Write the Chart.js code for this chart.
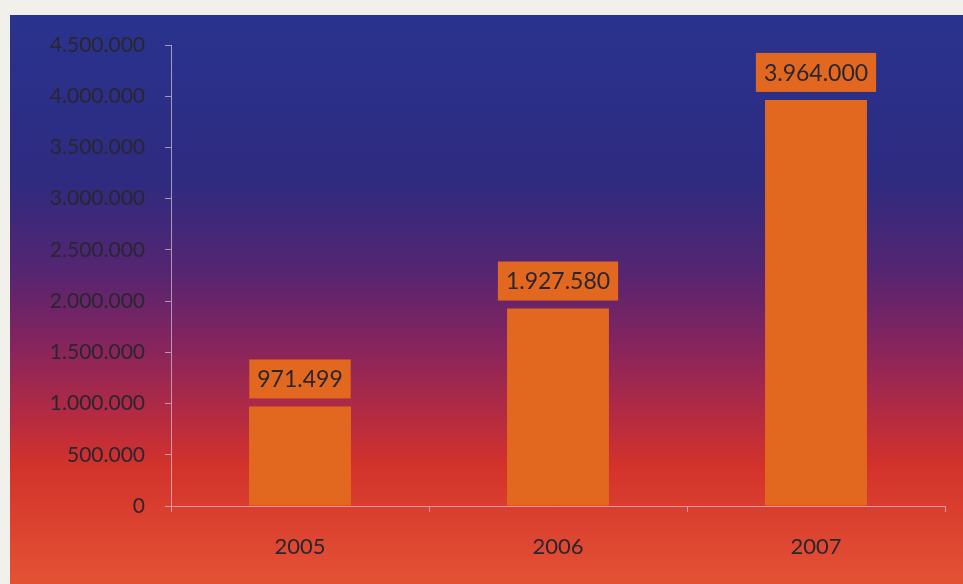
<!DOCTYPE html>
<html>
<head>
<meta charset="utf-8">
<script src="https://cdn.jsdelivr.net/npm/chart.js@4"></script>
<style>
  html, body { margin: 0; padding: 0; background: #f1efe8; }
  #wrap { width: 963px; height: 584px; position: relative; }
</style>
</head>
<body>
<div id="wrap"><canvas id="myCanvas"></canvas></div>
<script>
const years = ['2005', '2006', '2007'];
const values = [971499, 1927580, 3964000];
const yMax = 4500000;
const yStep = 500000;

const orange = '#e3681f';
const textDark = '#2a2630';
const axisColor = 'rgba(205, 185, 205, 0.75)';

// 1234567 -> 1.234.567
const fmt = (v) => String(Math.round(v)).replace(/\B(?=(\d{3})+(?!\d))/g, '.');

// paper edge plus the blue-to-red panel behind the plot
const backdrop = {
	id: 'backdrop',
	beforeDraw(chart) {
		const ctx = chart.ctx;
		const w = chart.width, h = chart.height;
		ctx.save();
		ctx.fillStyle = '#f2f0ea';
		ctx.fillRect(0, 0, w, h);
		const g = ctx.createLinearGradient(0, 15, 0, h);
		g.addColorStop(0.00, '#29338e');
		g.addColorStop(0.29, '#2e2b80');
		g.addColorStop(0.45, '#552571');
		g.addColorStop(0.57, '#82245f');
		g.addColorStop(0.70, '#b32a43');
		g.addColorStop(0.79, '#d2322b');
		g.addColorStop(1.00, '#e45234');
		ctx.fillStyle = g;
		ctx.fillRect(10, 15, w - 10, h - 15);
		ctx.restore();
	}
};

// boxed value above each bar
const valueBoxes = {
	id: 'valueBoxes',
	afterDatasetsDraw(chart) {
		const ctx = chart.ctx;
		const meta = chart.getDatasetMeta(0);
		ctx.save();
		ctx.font = '23px Lato';
		ctx.textAlign = 'center';
		ctx.textBaseline = 'middle';
		meta.data.forEach((bar, i) => {
			const txt = fmt(chart.data.datasets[0].data[i]);
			const tw = ctx.measureText(txt).width;
			const bw = tw + 16, bh = 39;
			const bx = bar.x - bw / 2;
			const by = bar.y - 8 - bh;
			ctx.fillStyle = orange;
			ctx.fillRect(bx, by, bw, bh);
			ctx.fillStyle = textDark;
			ctx.fillText(txt, bar.x, by + bh / 2 + 1);
		});
		ctx.restore();
	}
};

const ctx = document.querySelector('#myCanvas');
const chart = new Chart(ctx, {
	type: 'bar',
	data: {
		labels: years,
		datasets: [{
			data: values,
			backgroundColor: orange,
			borderWidth: 0,
			barPercentage: 0.395,
			categoryPercentage: 1
		}]
	},
	options: {
		responsive: true,
		maintainAspectRatio: false,
		animation: false,
		layout: { padding: { top: 45, right: 18, bottom: 0, left: 0 } },
		plugins: {
			legend: { display: false },
			tooltip: { enabled: false }
		},
		scales: {
			x: {
				offset: true,
				grid: {
					offset: true,
					drawOnChartArea: false,
					drawTicks: true,
					tickLength: 6,
					color: axisColor
				},
				border: { color: axisColor, width: 1 },
				ticks: {
					color: textDark,
					font: { family: 'Lato', size: 22 },
					padding: 22
				},
				afterFit(scale) { scale.height = 78; }
			},
			y: {
				min: 0,
				max: yMax,
				grid: {
					drawOnChartArea: false,
					drawTicks: true,
					tickLength: 6,
					color: axisColor
				},
				border: { color: axisColor, width: 1 },
				ticks: {
					stepSize: yStep,
					color: textDark,
					font: { family: 'Lato', size: 21 },
					padding: 20,
					callback: (v) => fmt(v)
				},
				afterFit(scale) { scale.width = 171; }
			}
		}
	},
	plugins: [backdrop, valueBoxes]
});
</script>
</body>
</html>
